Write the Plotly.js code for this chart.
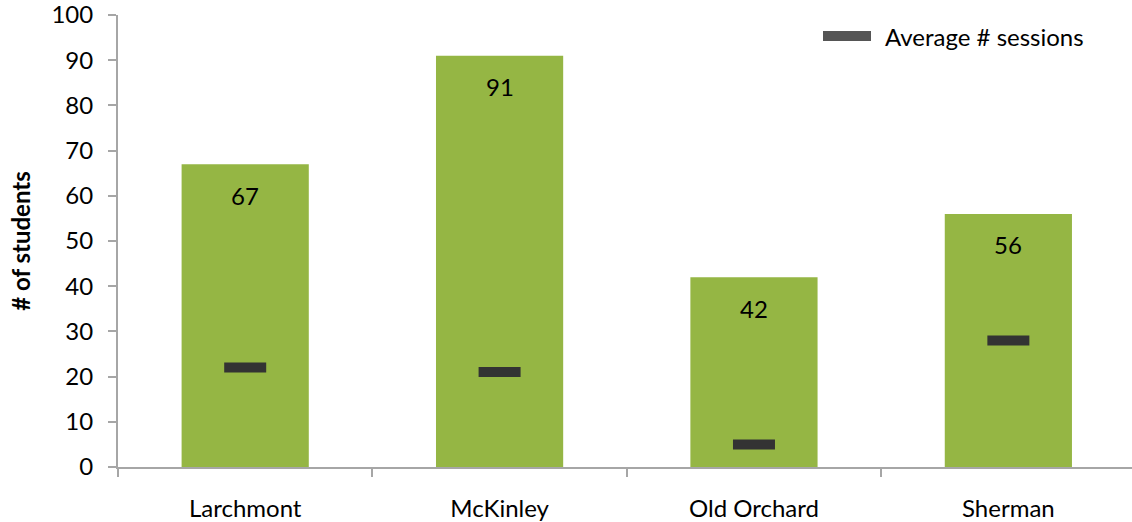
<!DOCTYPE html>
<html>
<head>
<meta charset="utf-8">
<script src="https://cdn.plot.ly/plotly-3.0.1.min.js"></script>
<style>
  html, body { margin: 0; padding: 0; background: #fff; }
  #chart { width: 1132px; height: 522px; }
</style>
</head>
<body>
<div id="chart"></div>
<script>
// Schools shown on the category axis
const schools = ["Larchmont", "McKinley", "Old Orchard", "Sherman"];
// Number of students per school (bars)
const students = [67, 91, 42, 56];
// Average number of sessions per school (dash markers)
const avgSessions = [22, 21, 5, 28];
const legendLabel = "Average # sessions";

const FONT = "Lato, 'Open Sans', sans-serif";
const FONT_SIZE = 24;
const AXIS_GREY = "#A6A6A6";

const barTrace = {
  type: "bar",
  x: schools,
  y: students,
  marker: { color: "#95B644" },
  hoverinfo: "x+y",
  showlegend: false
};

// line-ew markers are 1.4 x size long, so size 30 gives a ~42px dash
const sessionTrace = {
  type: "scatter",
  mode: "markers",
  name: legendLabel,
  x: schools,
  y: avgSessions,
  marker: {
    symbol: "line-ew",
    size: 30,
    color: "#333333",
    line: { color: "#333333", width: 10 }
  },
  showlegend: false
};

// Value labels sitting just under the top of each bar
const valueLabels = schools.map((s, i) => ({
  x: s,
  y: students[i],
  xref: "x",
  yref: "y",
  text: String(students[i]),
  showarrow: false,
  yanchor: "middle",
  yshift: -31,
  font: { family: FONT, size: FONT_SIZE, color: "#000" }
}));

const layout = {
  width: 1132,
  height: 522,
  margin: { l: 118, r: 0, t: 15, b: 55 },
  paper_bgcolor: "#fff",
  plot_bgcolor: "#fff",
  bargap: 0.5,
  showlegend: false,
  font: { family: FONT, size: FONT_SIZE, color: "#000" },
  xaxis: {
    type: "category",
    range: [-0.5, 3.486],
    showline: true,
    linecolor: AXIS_GREY,
    linewidth: 2,
    ticks: "outside",
    tickson: "boundaries",
    ticklen: 8,
    tickwidth: 2,
    tickcolor: AXIS_GREY,
    ticklabelstandoff: 19,
    ticklabeloverflow: "allow",
    showgrid: false,
    zeroline: false,
    tickfont: { family: FONT, size: FONT_SIZE, color: "#000" }
  },
  yaxis: {
    range: [0, 100],
    dtick: 10,
    showline: true,
    linecolor: AXIS_GREY,
    linewidth: 2,
    ticks: "outside",
    ticklen: 8,
    tickwidth: 2,
    tickcolor: AXIS_GREY,
    ticklabelstandoff: 10,
    ticklabeloverflow: "allow",
    showgrid: false,
    zeroline: false,
    tickfont: { family: FONT, size: FONT_SIZE, color: "#000" },
    title: {
      text: "<b># of students</b>",
      font: { family: FONT, size: FONT_SIZE, color: "#000" },
      standoff: 14
    }
  },
  annotations: valueLabels.concat([
    {
      xref: "paper", yref: "paper",
      x: (883 - 118) / 1014, y: (467 - 36) / 452,
      xanchor: "left", yanchor: "middle",
      text: legendLabel,
      showarrow: false,
      font: { family: FONT, size: FONT_SIZE, color: "#000" }
    }
  ]),
  shapes: [
    {
      type: "rect",
      xref: "paper", yref: "paper",
      x0: (823 - 118) / 1014, x1: (871 - 118) / 1014,
      y0: (467 - 41) / 452, y1: (467 - 31) / 452,
      fillcolor: "#555555",
      line: { width: 0 }
    }
  ]
};

Plotly.newPlot("chart", [barTrace, sessionTrace], layout, { staticPlot: true });
</script>
</body>
</html>
